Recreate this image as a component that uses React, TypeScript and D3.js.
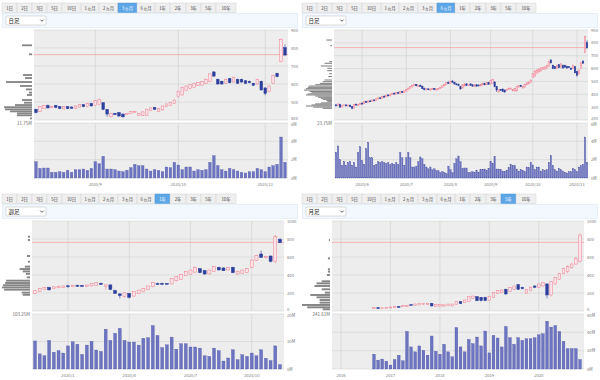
import React from "react";
import * as d3 from "d3";

type OHLC = [number, number, number, number]; // open, high, low, close

const TABS = ["1日", "2日", "3日", "5日", "10日", "1ヵ月", "2ヵ月", "3ヵ月", "6ヵ月", "1年", "2年", "3年", "5年", "10年"];

// Daily candles (mid-May 2020 .. Nov 10 2020), 126 trading days
const DAILY: OHLC[] = [
  [318, 324, 305, 310], [310, 328, 308, 325], [322, 326, 296, 300], [302, 316, 298, 313], [313, 322, 308, 318],
  [318, 320, 306, 310], [311, 320, 305, 316], [316, 318, 300, 304], [304, 308, 283, 292], [292, 326, 290, 322],
  [322, 330, 315, 318], [318, 324, 310, 320], [320, 335, 316, 330], [330, 340, 322, 326], [326, 348, 324, 345],
  [345, 350, 333, 336], [336, 352, 334, 348], [348, 356, 340, 344], [344, 360, 340, 356], [356, 362, 345, 350],
  [350, 368, 348, 364], [364, 376, 360, 372], [372, 380, 362, 366], [366, 388, 364, 384], [384, 392, 375, 380],
  [380, 398, 376, 394], [394, 400, 384, 388], [388, 404, 385, 400], [400, 412, 395, 408], [408, 414, 396, 402],
  [402, 418, 398, 414], [414, 420, 404, 408], [408, 424, 404, 420], [420, 426, 410, 414], [414, 430, 410, 426],
  [426, 440, 420, 436], [436, 452, 432, 448], [448, 464, 444, 460], [460, 474, 452, 468], [468, 482, 462, 476],
  [476, 480, 462, 466], [466, 474, 456, 470], [470, 476, 458, 462], [462, 468, 440, 444], [444, 452, 430, 436],
  [436, 446, 428, 442], [442, 448, 432, 436], [436, 444, 426, 440], [440, 450, 434, 446], [446, 448, 432, 438],
  [438, 444, 430, 440], [440, 448, 434, 444], [444, 458, 440, 454], [454, 470, 450, 466], [466, 482, 462, 478],
  [478, 494, 474, 490], [490, 500, 480, 484], [484, 506, 482, 502], [502, 512, 490, 494], [494, 498, 476, 480],
  [480, 488, 470, 476], [476, 484, 464, 468],
  [459, 463, 437, 441], [448, 478, 445, 474], [465, 485, 462, 481], [481, 486, 465, 467], [470, 478, 466, 474],
  [481, 484, 466, 470], [474, 477, 460, 463], [461, 477, 458, 474], [474, 478, 460, 463], [472, 476, 462, 465],
  [465, 481, 462, 478], [472, 490, 470, 487], [485, 489, 471, 474], [474, 495, 471, 492], [492, 495, 475, 478],
  [481, 510, 478, 507], [485, 519, 482, 515], [496, 498, 455, 459], [459, 461, 418, 433], [418, 440, 415, 437],
  [437, 440, 427, 430], [441, 444, 419, 422], [433, 436, 411, 418], [430, 440, 428, 437], [437, 451, 434, 448],
  [441, 451, 439, 448], [426, 440, 424, 437], [426, 448, 423, 445], [426, 462, 423, 459], [452, 470, 450, 467],
  [470, 473, 456, 459], [448, 466, 446, 463], [456, 481, 453, 478], [474, 492, 471, 489], [481, 499, 478, 496],
  [492, 514, 490, 511], [530, 563, 526, 560], [539, 585, 536, 581], [563, 593, 560, 589], [574, 600, 570, 596],
  [581, 608, 578, 604], [593, 611, 590, 607], [594, 617, 591, 613], [604, 630, 600, 626], [615, 660, 612, 656],
  [667, 671, 640, 644], [626, 630, 596, 600], [615, 619, 596, 600], [604, 630, 600, 626], [630, 634, 603, 607],
  [611, 641, 607, 637], [626, 630, 600, 604], [626, 630, 607, 611], [618, 622, 600, 604], [615, 619, 604, 607],
  [604, 607, 589, 593], [600, 630, 596, 626], [615, 619, 563, 567], [578, 582, 537, 548], [558, 593, 554, 589],
  [604, 652, 600, 648], [659, 663, 637, 641], [724, 854, 720, 848], [802, 820, 755, 761],
];

// Daily volume in millions
const DAILY_VOL = [
  2.8, 3.5, 2.0, 1.4, 1.8, 1.4, 1.7, 1.8, 1.4, 1.7, 1.2, 2.8, 3.4, 1.9, 1.5, 3.2, 3.9, 2.2, 2.2, 1.4,
  1.5, 1.8, 1.7, 1.8, 1.7, 1.6, 1.7, 1.5, 1.6, 1.5, 1.7, 1.5, 2.8, 2.2, 1.4, 2.2, 2.8, 2.2, 1.2, 1.2,
  1.3, 1.8, 2.3, 2.1, 1.5, 1.2, 1.0, 1.2, 0.9, 1.0, 0.8, 0.8, 0.6, 0.7, 0.6, 0.5, 1.3, 0.9, 0.6, 1.6,
  2.1, 2.4,
  1.78, 1.05, 1.09, 1.09, 0.62, 0.62, 0.69, 0.62, 0.84, 0.62, 0.91, 0.91, 0.98, 0.84, 1.05, 1.78, 1.56, 2.36, 0.98, 0.98,
  0.91, 0.76, 0.69, 0.84, 1.13, 1.49, 1.35, 1.35, 0.98, 0.76, 0.91, 0.84, 0.69, 1.2, 1.13, 1.71, 1.42, 0.91, 1.2, 1.2,
  0.76, 0.91, 0.84, 0.91, 1.71, 2.44, 1.35, 0.91, 0.76, 1.05, 0.91, 0.76, 0.62, 0.55, 0.69, 0.69, 1.05, 0.91, 0.69, 1.2,
  1.35, 1.49, 4.47, 1.71,
];

const DAILY_TICKS = [
  { i: 13, label: "2020/6" }, { i: 35, label: "2020/7" }, { i: 57, label: "2020/8" },
  { i: 77, label: "2020/9" }, { i: 98, label: "2020/10" }, { i: 120, label: "2020/11" },
];
const THREE_MONTH_START = 62;

// Weekly candles (Nov 2019 .. Nov 2020)
const WEEKLY: OHLC[] = [
  [192, 232, 185, 225], [218, 256, 212, 250], [243, 268, 238, 262], [262, 268, 228, 235], [248, 275, 244, 268],
  [258, 282, 252, 276], [264, 284, 258, 278], [280, 292, 256, 272], [270, 290, 264, 286], [286, 292, 270, 275],
  [282, 290, 268, 272], [272, 294, 266, 288], [278, 310, 274, 306], [286, 318, 282, 314], [308, 316, 290, 296],
  [270, 298, 236, 290], [290, 294, 232, 240], [226, 236, 190, 196], [190, 196, 140, 172], [160, 208, 150, 202],
  [196, 200, 140, 152], [166, 222, 160, 218], [196, 236, 190, 232], [214, 254, 208, 250], [240, 280, 236, 278],
  [270, 318, 262, 314], [304, 316, 290, 298], [306, 316, 288, 300], [306, 312, 292, 298], [300, 368, 296, 362],
  [336, 388, 330, 382], [352, 410, 346, 404], [396, 446, 390, 440], [410, 460, 404, 455], [432, 492, 428, 485],
  [470, 476, 420, 426], [448, 456, 404, 411], [412, 460, 406, 455], [440, 498, 436, 492], [485, 492, 450, 456],
  [478, 486, 444, 448], [456, 490, 450, 485], [485, 492, 420, 426], [411, 445, 400, 440], [420, 460, 412, 455],
  [426, 475, 420, 470], [486, 572, 480, 567], [559, 622, 552, 618], [633, 670, 590, 596], [596, 610, 580, 604],
  [611, 616, 540, 552], [548, 846, 530, 826], [796, 810, 754, 759],
];
const WEEKLY_VOL = [
  10.2, 5.5, 4.8, 10.4, 6.1, 6.7, 5.8, 8.4, 9.9, 9.0, 5.3, 8.7, 10.1, 6.9, 6.4, 14.5, 10.4, 13.0, 14.8, 10.4,
  9.8, 9.8, 8.7, 11.2, 11.4, 15.8, 12.2, 7.8, 8.8, 11.6, 7.2, 9.2, 9.2, 8.0, 8.0, 7.6, 4.8, 4.6, 7.6, 6.7,
  2.9, 4.0, 7.0, 3.4, 5.2, 4.6, 5.8, 4.8, 7.0, 3.9, 3.1, 8.4, 1.6,
];
const WEEKLY_TICKS = [
  { i: 7, label: "2020/1" }, { i: 20, label: "2020/4" }, { i: 33, label: "2020/7" }, { i: 46, label: "2020/10" },
];

// Monthly candles: month index counted from Jan 2016; data starts Sep 2016 (index 8)
const MONTHLY_START = 8;
const MONTHLY: OHLC[] = [
  [30, 44, 28, 41], [37, 40, 24, 26], [30, 38, 28, 35], [33, 44, 30, 40], [34, 46, 32, 44],
  [40, 52, 38, 50], [50, 54, 38, 40], [48, 62, 46, 60], [52, 66, 50, 64], [70, 74, 60, 62],
  [63, 80, 60, 78], [67, 86, 64, 85], [70, 90, 66, 85], [70, 88, 68, 85], [85, 90, 52, 56],
  [48, 72, 44, 70], [55, 72, 50, 70], [55, 70, 52, 68], [60, 78, 56, 77], [56, 80, 52, 77],
  [70, 104, 66, 103], [104, 110, 78, 82], [92, 126, 88, 122], [107, 160, 104, 159], [137, 170, 134, 166],
  [159, 162, 110, 114], [152, 156, 108, 115], [152, 158, 110, 115], [115, 160, 110, 159], [152, 210, 148, 204],
  [196, 228, 190, 226], [204, 238, 200, 233], [241, 250, 180, 189], [218, 265, 214, 263], [241, 280, 236, 278],
  [292, 300, 236, 241], [263, 270, 240, 248], [196, 244, 190, 241], [226, 268, 222, 263], [278, 284, 260, 263],
  [263, 304, 258, 300], [278, 318, 270, 315], [300, 310, 140, 178], [178, 330, 160, 326], [300, 380, 290, 374],
  [352, 426, 345, 418], [418, 480, 410, 474], [437, 510, 420, 492], [485, 530, 470, 522], [522, 600, 515, 585],
  [548, 860, 540, 844],
];
const MONTHLY_VOL = [
  16.2, 9.7, 10.8, 8.6, 4.3, 10.4, 15.1, 9.0, 41, 24.1, 18.7, 25.2, 20.5, 15.1, 36, 19.4, 16.2, 27, 18.7, 13.3,
  45.3, 24.1, 18.7, 32.4, 27.7, 34.9, 25.2, 41.4, 17.6, 36.7, 33.8, 24.1, 46.4, 34.2, 27, 34.2, 31.3, 33.1, 33.1, 34.2,
  37.4, 38.5, 52.2, 45.7, 47.5, 41, 30.2, 22.3, 22.3, 22.3, 10.4,
];
const MONTHLY_TICKS = [
  { i: 0, label: "2016" }, { i: 12, label: "2017" }, { i: 24, label: "2018" }, { i: 36, label: "2019" }, { i: 48, label: "2020" },
];

// Volume-at-price histograms: [price, volume]
const HIST_3M: [number, number][] = [
  [815, 10], [765, 3], [650, 9], [633, 7], [611, 26], [589, 12], [570, 6], [552, 3], [539, 5], [511, 10],
  [496, 8], [483, 17], [471, 28], [459, 27], [448, 22], [437, 15], [426, 15], [409, 2],
];
const HIST_6M: [number, number][] = [
  [822, 6], [778, 2], [654, 3], [641, 8], [620, 12], [602, 5], [584, 5], [560, 3], [538, 4], [511, 8],
  [498, 10], [485, 13], [475, 18], [464, 25], [454, 26], [444, 28], [433, 30], [422, 24], [412, 22], [403, 26],
  [395, 28], [386, 18], [377, 15], [369, 12], [361, 10], [351, 6], [342, 5], [333, 12], [325, 18], [317, 22],
  [309, 28], [300, 20], [291, 10],
];
const HIST_1Y: [number, number][] = [
  [826, 2], [789, 2], [611, 3], [548, 2], [493, 5], [466, 10], [440, 7], [413, 4], [374, 3], [337, 23],
  [311, 24], [286, 26], [262, 27], [237, 25], [204, 8], [180, 7],
];
const HIST_5Y: [number, number][] = [
  [789, 1], [585, 2], [463, 2], [437, 2], [400, 3], [330, 8], [307, 13], [278, 15], [241, 8], [204, 5],
  [178, 19], [152, 13], [122, 10], [93, 10], [67, 27], [41, 22], [19, 7],
];

const LIMIT_PRICE = 763;

const FONT = "'Noto Sans CJK JP', 'Noto Sans', sans-serif";
const TAB_EDGES = [2, 17, 32, 47, 62, 81, 99, 118, 137, 155, 170, 186, 201, 216, 236];

interface Spec {
  ox: number;
  oy: number;
  active: string;
  select: string;
  data: OHLC[];
  vol: number[];
  start: number;
  xDomain: [number, number];
  xRange: [number, number];
  plotX: [number, number];
  ticks: { i: number; label: string }[];
  priceDomain: [number, number];
  priceStep: number;
  volMax: number;
  volStep: number;
  volLabel: string;
  hist: [number, number][];
  histBin: number;
  bodyW: number;
  barW: number;
}

const PT = 30, PB = 120, VT = 123, VB = 178;

function Panel({ s }: { s: Spec }) {
  const [x0, x1] = s.plotX;
  const x = d3.scaleLinear().domain(s.xDomain).range(s.xRange);
  const y = d3.scaleLinear().domain(s.priceDomain).range([PB, PT]);
  const yv = d3.scaleLinear().domain([0, s.volMax]).range([VB, VT]);
  const hmax = d3.max(s.hist, (d) => d[1]) as number;
  const hx = d3.scaleLinear().domain([0, hmax]).range([0, 28]);
  const priceTicks = d3.range(s.priceDomain[0], s.priceDomain[1] + 0.1, s.priceStep);
  const volTicks = d3.range(0, s.volMax + 0.01, s.volStep);
  const histH = Math.abs(y(0) - y(s.histBin)) * 0.85;

  return (
    <g transform={`translate(${s.ox},${s.oy})`} fontFamily={FONT}>
      {/* tabs */}
      {TABS.map((t, k) => {
        const a = TAB_EDGES[k], b = TAB_EDGES[k + 1];
        const on = t === s.active;
        return (
          <g key={t}>
            <rect x={a} y={3} width={b - a} height={9.5} fill={on ? "#5da6e6" : "#efefef"} stroke={on ? "#4b92d4" : "#d2d2d2"} strokeWidth={0.5} />
            <text x={(a + b) / 2} y={9.6} fontSize={4.3} textAnchor="middle" fill={on ? "#fff" : "#444"}>{t}</text>
          </g>
        );
      })}
      {/* select band */}
      <rect x={2.5} y={13.5} width={295} height={14} fill="#f2f8fd" stroke="#dbe7f3" strokeWidth={0.6} />
      <rect x={6} y={16} width={40} height={9} fill="#fff" stroke="#b9b9b9" strokeWidth={0.5} rx={1} />
      <text x={8.5} y={22.6} fontSize={5.5} fill="#222">{s.select}</text>
      <path d="M40.3,19.6 L42,21.3 L43.7,19.6" fill="none" stroke="#333" strokeWidth={0.8} />

      {/* price plot */}
      <rect x={x0} y={PT} width={x1 - x0} height={PB - PT} fill="#ededed" />
      {priceTicks.map((p, k) => (
        <g key={"p" + p}>
          <line x1={x0} x2={x1} y1={y(p)} y2={y(p)} stroke="#d3d3d3" strokeWidth={0.6} />
          <text x={x1 + 3} y={k === 0 ? y(p) : y(p) + 1.5} fontSize={4.2} fill="#777">{p}</text>
        </g>
      ))}
      {s.ticks.map((t) => (
        <line key={"vx" + t.i} x1={x(t.i)} x2={x(t.i)} y1={PT} y2={PB} stroke="#cfcfcf" strokeWidth={0.6} />
      ))}
      <line x1={x0} x2={x1} y1={y(LIMIT_PRICE)} y2={y(LIMIT_PRICE)} stroke="#f3a3a3" strokeWidth={0.8} />

      {/* histogram */}
      {s.hist.map(([p, v]) => (
        <rect key={"h" + p} x={x0 - 2 - hx(v)} y={y(p) - histH / 2} width={hx(v)} height={histH} fill="#858585" />
      ))}

      {/* candles */}
      {s.data.map(([o, h, l, c], k) => {
        const cx = x(s.start + k);
        const up = c >= o;
        const top = y(Math.max(o, c));
        const bh = Math.max(0.8, Math.abs(y(o) - y(c)));
        const col = up ? "#ef7f90" : "#2d3f9c";
        return (
          <g key={"c" + k}>
            <line x1={cx} x2={cx} y1={y(h)} y2={y(l)} stroke={col} strokeWidth={0.6} />
            <rect x={cx - s.bodyW / 2} y={top} width={s.bodyW} height={bh} fill={up ? "#fde4ea" : "#2d3f9c"} stroke={col} strokeWidth={0.5} />
          </g>
        );
      })}

      {/* volume plot */}
      <rect x={x0} y={VT} width={x1 - x0} height={VB - VT} fill="#ededed" />
      {volTicks.map((v, k) => (
        <g key={"v" + v}>
          <line x1={x0} x2={x1} y1={yv(v)} y2={yv(v)} stroke="#d3d3d3" strokeWidth={0.6} />
          <text x={x1 + 3} y={k === volTicks.length - 1 ? yv(v) + 3.2 : yv(v) + 1.5} fontSize={4.2} fill="#777">{v}M</text>
        </g>
      ))}
      {s.ticks.map((t) => (
        <line key={"vv" + t.i} x1={x(t.i)} x2={x(t.i)} y1={VT} y2={VB} stroke="#cfcfcf" strokeWidth={0.6} />
      ))}
      {s.vol.map((v, k) => {
        const cx = x(s.start + k);
        return (
          <rect key={"b" + k} x={cx - s.barW / 2} y={yv(v)} width={s.barW} height={VB - yv(v)} fill="#6d74c0" stroke="#4d55a6" strokeWidth={0.3} />
        );
      })}
      <text x={x0 - 2} y={VT + 1.5} fontSize={4.5} fill="#666" textAnchor="end">{s.volLabel}</text>

      {/* x labels */}
      {s.ticks.map((t) => (
        <text key={"xl" + t.i} x={x(t.i)} y={185.5} fontSize={4.2} fill="#777" textAnchor="middle">{t.label}</text>
      ))}
    </g>
  );
}

const SPECS: Spec[] = [
  {
    ox: 0, oy: 0, active: "3ヵ月", select: "日足",
    data: DAILY.slice(THREE_MONTH_START), vol: DAILY_VOL.slice(THREE_MONTH_START), start: 0,
    xDomain: [0, DAILY.length - THREE_MONTH_START - 1], xRange: [36, 285], plotX: [34, 288],
    ticks: DAILY_TICKS.filter((t) => t.i >= THREE_MONTH_START).map((t) => ({ i: t.i - THREE_MONTH_START, label: t.label })),
    priceDomain: [400, 900], priceStep: 100, volMax: 6, volStep: 2, volLabel: "11.75M",
    hist: HIST_3M, histBin: 12, bodyW: 2.6, barW: 2.6,
  },
  {
    ox: 300, oy: 0, active: "6ヵ月", select: "日足",
    data: DAILY, vol: DAILY_VOL, start: 0,
    xDomain: [0, DAILY.length - 1], xRange: [36, 287], plotX: [34, 288],
    ticks: DAILY_TICKS,
    priceDomain: [200, 900], priceStep: 100, volMax: 6, volStep: 2, volLabel: "23.75M",
    hist: HIST_6M, histBin: 10, bodyW: 1.4, barW: 1.4,
  },
  {
    ox: 0, oy: 191, active: "1年", select: "週足",
    data: WEEKLY, vol: WEEKLY_VOL, start: 0,
    xDomain: [0, WEEKLY.length - 1], xRange: [35, 280], plotX: [32, 284],
    ticks: WEEKLY_TICKS,
    priceDomain: [0, 1000], priceStep: 200, volMax: 20, volStep: 10, volLabel: "103.25M",
    hist: HIST_1Y, histBin: 25, bodyW: 3, barW: 3,
  },
  {
    ox: 300, oy: 191, active: "5年", select: "月足",
    data: MONTHLY, vol: MONTHLY_VOL, start: MONTHLY_START,
    xDomain: [MONTHLY_START, MONTHLY_START + MONTHLY.length - 1], xRange: [74, 280], plotX: [32, 284],
    ticks: MONTHLY_TICKS,
    priceDomain: [0, 1000], priceStep: 200, volMax: 60, volStep: 20, volLabel: "241.61M",
    hist: HIST_5Y, histBin: 25, bodyW: 2.6, barW: 2.8,
  },
];

export default function App() {
  return (
    <svg width={600} height={380} viewBox="0 0 600 380" style={{ position: "absolute", left: 0, top: 0, background: "#fff" }}>
      {SPECS.map((s, k) => (
        <Panel key={k} s={s} />
      ))}
    </svg>
  );
}
